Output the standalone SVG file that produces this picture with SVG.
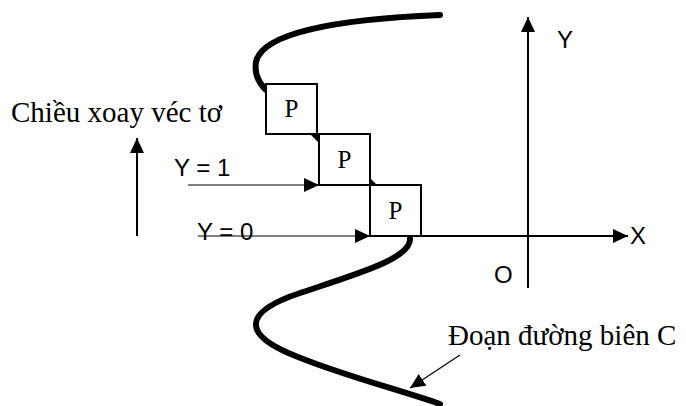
<svg xmlns="http://www.w3.org/2000/svg" width="686" height="406" viewBox="0 0 686 406">
<style>
.box{fill:#fff;stroke:#000;stroke-width:2}
.pt{font-family:"Liberation Serif","Times New Roman",serif;font-size:25px;text-anchor:middle;fill:#000}
.serif{font-family:"Liberation Serif","Times New Roman",serif;font-size:29px;fill:#000}
.sans{font-family:"Liberation Sans",Arial,sans-serif;font-size:24px;fill:#000}
.thin{stroke:#000;stroke-width:1.2;fill:none}
.axis{stroke:#000;stroke-width:2;fill:none}
.curve{stroke:#000;stroke-width:6;fill:none;stroke-linecap:round}
</style>
<defs>
<marker id="ah" markerUnits="userSpaceOnUse" markerWidth="16" markerHeight="16" refX="15" refY="7" orient="auto">
<path d="M0,0 L15,7 L0,14 Z" fill="#000"/>
</marker>
</defs>
<rect width="686" height="406" fill="#fff"/>
<g id="boundary">
<path class="curve" d="M440,15 C 340,19 262,32 256,62 C 254,74 260,84 266,90"/>
<path class="curve" d="M410,238 C 412,258 360,273 300,293 C 240,313 243,336 298,357 C 345,376 400,390 440,404"/>
</g>
<g id="p1"><rect class="box" x="266" y="84" width="51" height="50"/><text class="pt" x="291.5" y="117">P</text></g>
<g id="p2"><rect class="box" x="319" y="134" width="51" height="51"/><text class="pt" x="344.5" y="168">P</text></g>
<g id="p3"><rect class="box" x="370" y="185" width="51" height="51"/><text class="pt" x="395.5" y="219">P</text></g>
<g id="axes">
<line class="axis" x1="528" y1="288" x2="528" y2="17" marker-end="url(#ah)"/>
<line class="axis" x1="421" y1="236" x2="628" y2="236" marker-end="url(#ah)"/>
<text class="sans" x="557" y="48">Y</text>
<text class="sans" x="630" y="244">X</text>
<text class="sans" x="494" y="283">O</text>
</g>
<g id="labels">
<text class="serif" x="11" y="122">Chiều xoay véc tơ</text>
<text class="sans" x="174" y="176">Y = 1</text>
<text class="sans" x="197" y="240">Y = 0</text>
<text class="serif" x="448" y="345">Đoạn đường biên C</text>
</g>
<g id="connectors">
<line class="axis" x1="137" y1="236" x2="137" y2="138" marker-end="url(#ah)"/>
<line class="thin" x1="188" y1="185" x2="319" y2="185" marker-end="url(#ah)"/>
<line class="thin" x1="198" y1="236" x2="370" y2="236" marker-end="url(#ah)"/>
<line class="thin" x1="460" y1="355" x2="410" y2="388" marker-end="url(#ah)"/>
<polygon points="310,134 318,134 318,142" fill="#000"/>
<polygon points="370,178 370,185 377,185" fill="#000"/>
</g>
</svg>
